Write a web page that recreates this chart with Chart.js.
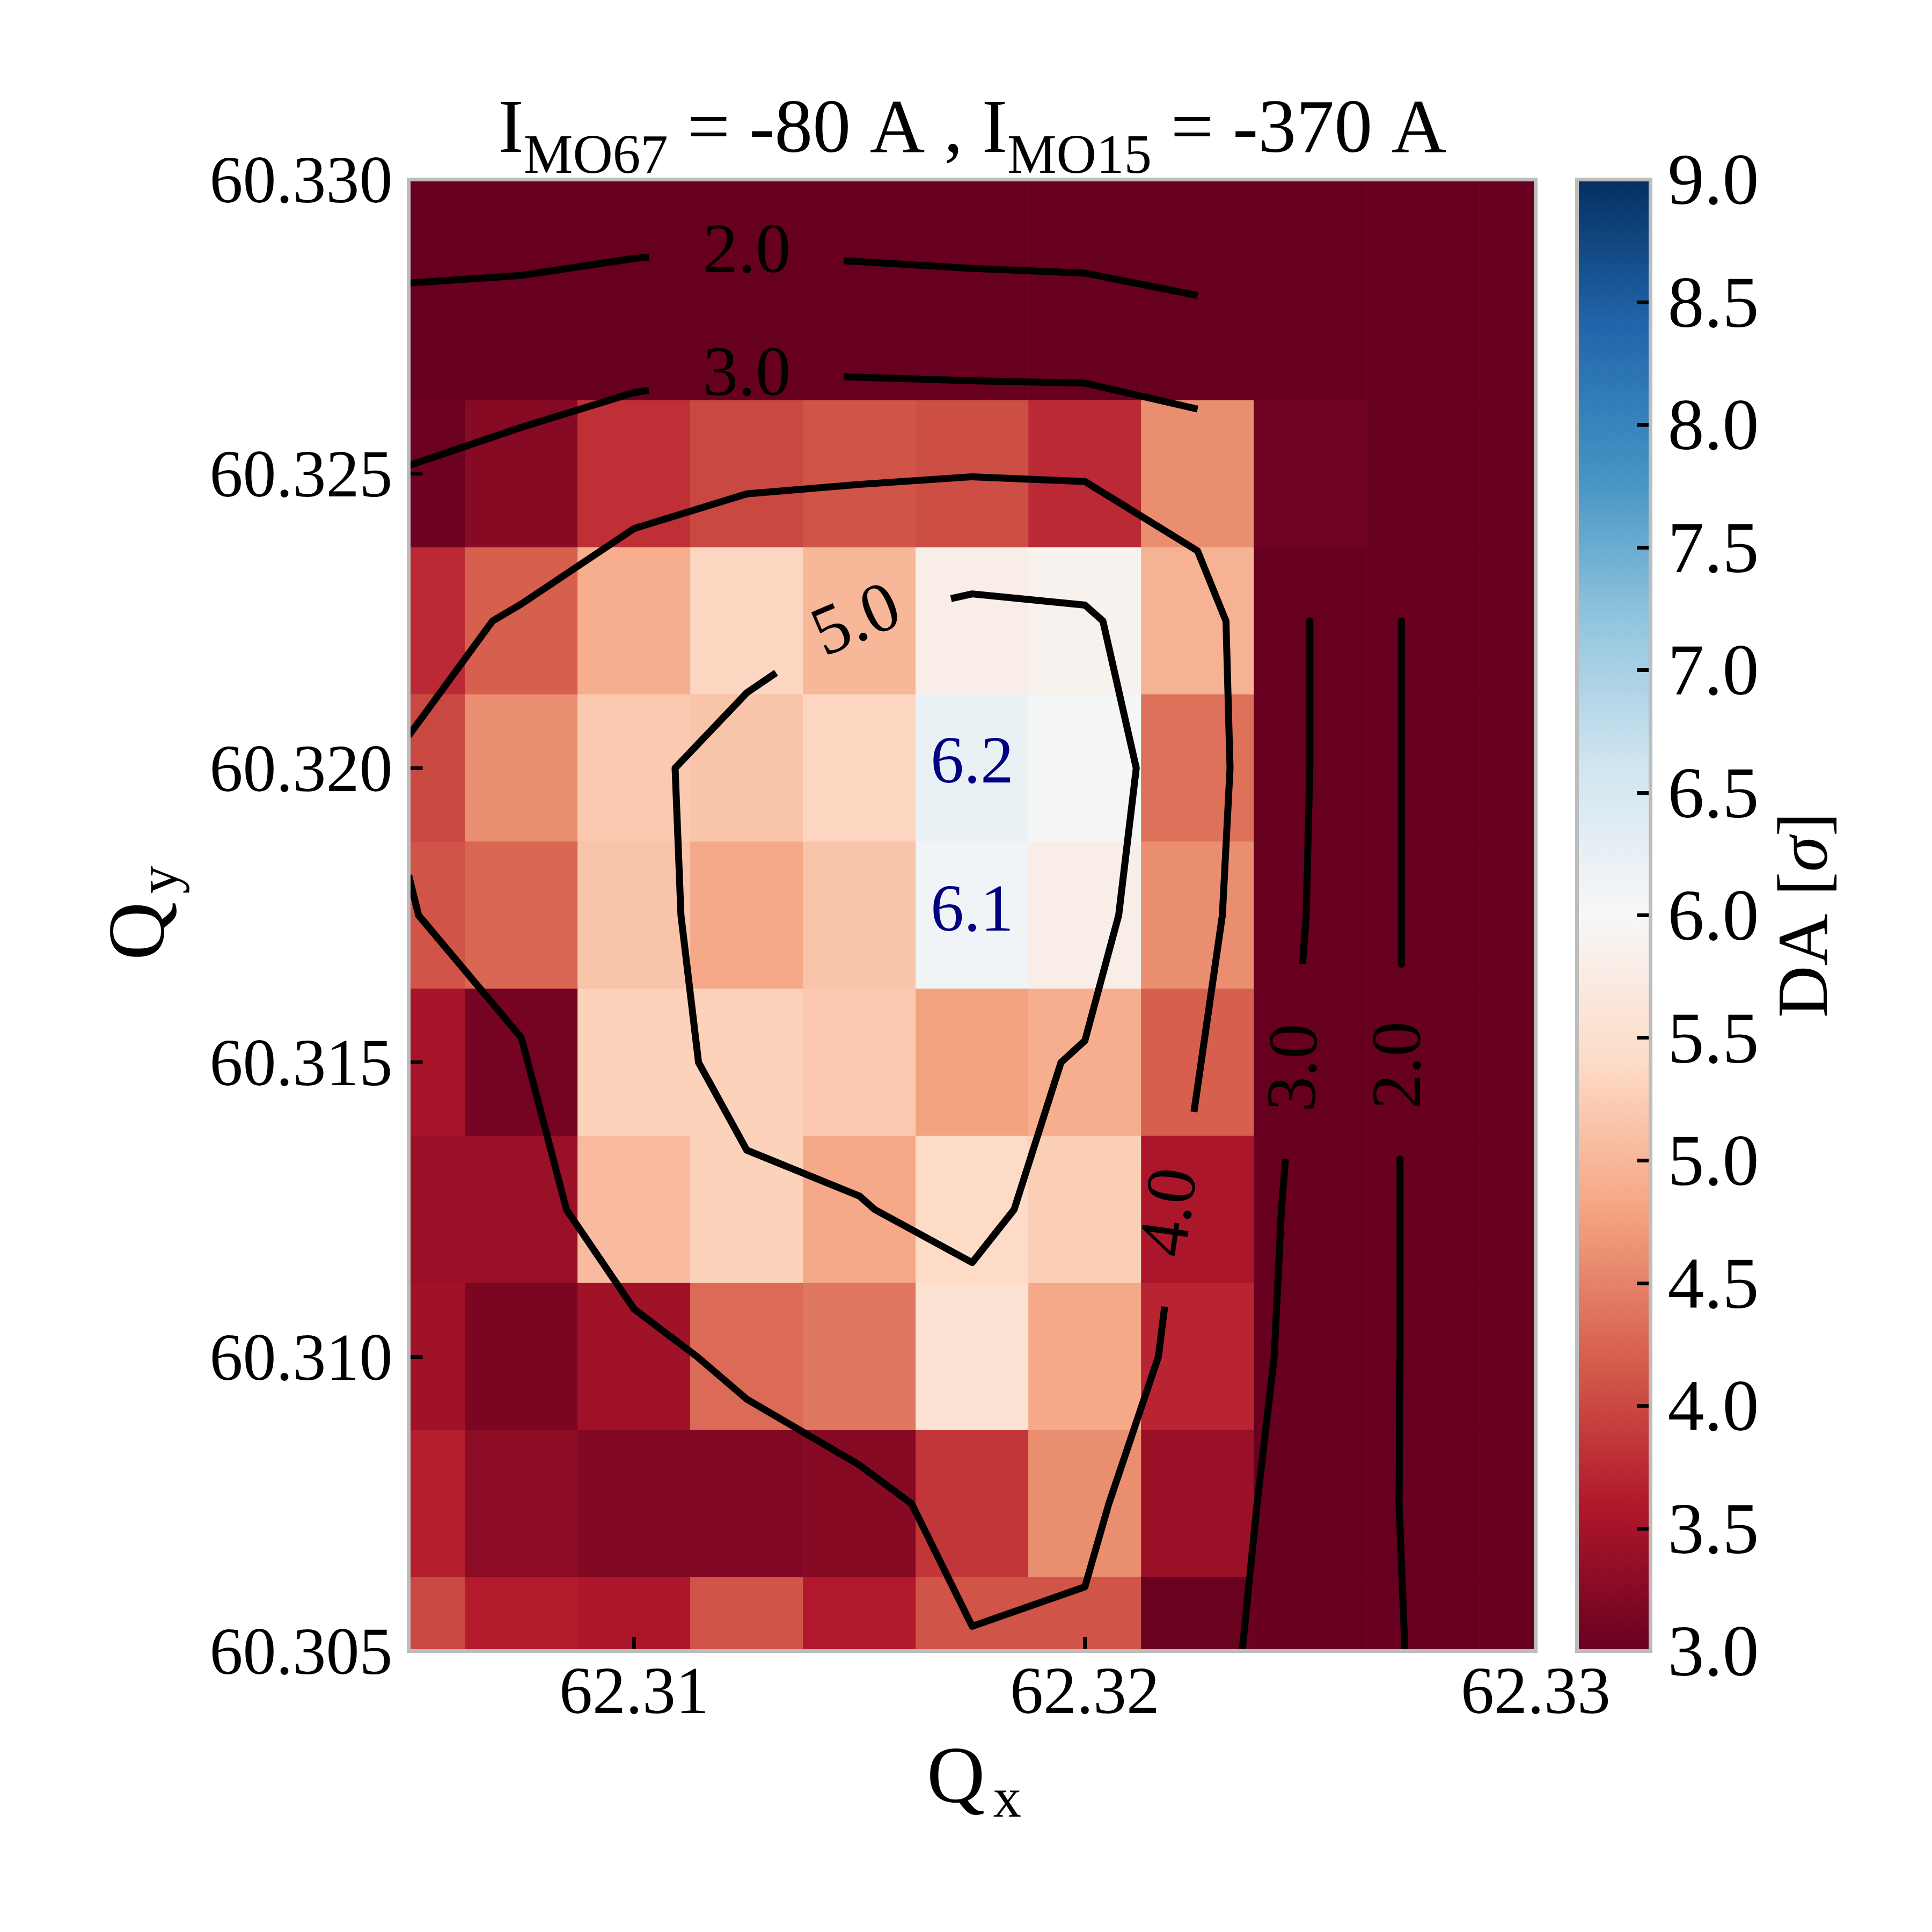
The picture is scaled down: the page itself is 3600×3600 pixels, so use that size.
<!DOCTYPE html>
<html><head><meta charset="utf-8">
<script src="https://cdn.jsdelivr.net/npm/chart.js@4"></script>
<style>html,body{margin:0;padding:0;background:#fff}canvas{position:absolute;top:0}</style>
</head><body>
<canvas id="main" width="3000" height="3600" style="left:0;width:3000px;height:3600px"></canvas>
<canvas id="cbar" width="700" height="3600" style="left:2900px;width:700px;height:3600px"></canvas>
<script>
// Axis values
const qx = [62.305,62.3075,62.31,62.3125,62.315,62.3175,62.32,62.3225,62.325,62.3275,62.33];
const qy = [60.305,60.3075,60.31,60.3125,60.315,60.3175,60.32,60.3225,60.325,60.3275,60.33];
const xTicks = [62.31,62.32,62.33];
const yTicks = [60.305,60.31,60.315,60.32,60.325,60.33];
const cbTicks = [3,3.5,4,4.5,5,5.5,6,6.5,7,7.5,8,8.5,9];
// DA per row (one array per Qy, left to right along Qx)
const da60305 = [4.0,3.62,3.55,4.1,3.6,4.1,4.1,3.02,3,3,3];
const da60307 = [3.65,3.3,3.2,3.2,3.25,3.85,4.6,3.4,3,3,3];
const da60310 = [3.45,3.15,3.45,4.3,4.4,5.55,4.85,3.7,3,3,3];
const da60312 = [3.4,3.4,5.05,5.3,4.85,5.4,5.25,3.55,3,3,3];
const da60315 = [3.5,3.1,5.3,5.3,5.2,4.78,4.9,4.2,3,3,3];
const da60317 = [4.1,4.25,5.15,4.85,5.15,6.1,5.8,4.6,3,3,3];
const da60320 = [4.0,4.6,5.2,5.15,5.35,6.2,6.05,4.35,3,3,3];
const da60322 = [3.75,4.2,4.9,5.35,5.0,5.8,5.9,4.95,3,3,3];
const da60325 = [3.05,3.25,3.8,4.0,4.1,4.05,3.75,4.6,3.06,3,3];
const da60327 = [3,3,3,3,3,3,3,3,3,3,3];
const da60330 = [3,3,3,3,3,3,3,3,3,3,3];
const daRows = [da60305,da60307,da60310,da60312,da60315,da60317,da60320,da60322,da60325,da60327,da60330];
// Contour polylines [Qx,Qy]
const c2TopA = [[62.305,60.32824],[62.3075,60.32837],[62.31,60.32866],[62.31033,60.32868]];
const c2TopB = [[62.31465,60.32862],[62.3175,60.32849],[62.32,60.32841],[62.3225,60.32803]];
const c3TopA = [[62.305,60.32514],[62.3075,60.32579],[62.31,60.32638],[62.31033,60.32642]];
const c3TopB = [[62.31465,60.32665],[62.3175,60.32658],[62.32,60.32654],[62.3225,60.3261]];
const c2RightA = [[62.32702,60.3225],[62.32702,60.31667]];
const c2RightB = [[62.32699,60.31336],[62.32699,60.31],[62.32697,60.3075],[62.3271,60.305]];
const c3RightA = [[62.32499,60.3225],[62.32499,60.32],[62.32491,60.3175],[62.32483,60.31667]];
const c3RightB = [[62.32445,60.31336],[62.32436,60.3125],[62.3242,60.31],[62.32382,60.3075],[62.32349,60.305]];
const c4A = [[62.305,60.32055],[62.30686,60.3225],[62.3075,60.32279],[62.31,60.32407],[62.3125,60.32466],[62.315,60.32482],[62.3175,60.32495],[62.32,60.32487],[62.3225,60.32369],[62.32313,60.3225],[62.32322,60.32],[62.32305,60.3175],[62.32242,60.31416]];
const c4B = [[62.32177,60.31085],[62.32163,60.31],[62.32053,60.3075],[62.32,60.30609],[62.3175,60.30542],[62.31616,60.3075],[62.315,60.30816],[62.3125,60.30928],[62.3114,60.31],[62.31,60.31081],[62.3085,60.3125],[62.3075,60.31542],[62.30522,60.3175],[62.305,60.31818]];
const c5 = [[62.31703,60.32288],[62.3175,60.32296],[62.32,60.32277],[62.3204,60.3225],[62.32114,60.32],[62.32075,60.3175],[62.32,60.31537],[62.31947,60.315],[62.31843,60.3125],[62.3175,60.3116],[62.31534,60.3125],[62.315,60.31273],[62.3125,60.31351],[62.31143,60.315],[62.31104,60.3175],[62.31091,60.32],[62.3125,60.32128],[62.31315,60.32162]];
const contours = [c2TopA,c2TopB,c3TopA,c3TopB,c2RightA,c2RightB,c3RightA,c3RightB,c4A,c4B,c5];
// Contour labels [text,Qx,Qy,rotation deg]
const contourLabels = [["2.0",62.3125,60.32874,0],["3.0",62.3125,60.32665,0],["5.0",62.31495,60.32247,-23],["4.0",62.32194,60.31245,-82],["3.0",62.32471,60.31491,-88],["2.0",62.32703,60.31495,-90]];
// Cell annotations [text,Qx,Qy]
const cellLabels = [["6.2",62.3175,60.32005],["6.1",62.3175,60.31754]];
// Text
const titleRuns = [["I",0],["MO67",1],[" = -80 A , I",0],["MO15",1],[" = -370 A",0]];
const xTitleRuns = [["Q",0],["x",1]];
const yTitleRuns = [["Q",0],["y",1]];
const cbTitleRuns = [["DA [",0],["σ",2],["]",0]];

const FONT = '"Liberation Serif"';
const rdbu = ["#67001f","#b2182b","#d6604d","#f4a582","#fddbc7","#f7f7f7","#d1e5f0","#92c5de","#4393c3","#2166ac","#053061"];
function hex(c){return [1,3,5].map(i=>parseInt(c.substr(i,2),16));}
function cmap(v){
  const t=Math.min(1,Math.max(0,(v-3)/6))*10, i=Math.min(9,Math.floor(t)), f=t-i;
  const a=hex(rdbu[i]), b=hex(rdbu[i+1]);
  return `rgb(${a.map((x,k)=>Math.round(x+(b[k]-x)*f)).join(",")})`;
}
function drawRuns(ctx,runs,cx,base,rot,size,subSize,shift,gap){
  gap=gap||0;
  const font=r=>r[1]===1?`${subSize}px ${FONT}`:r[1]===2?`italic ${size}px ${FONT}`:`${size}px ${FONT}`;
  ctx.save();ctx.translate(cx,base);ctx.rotate(rot*Math.PI/180);
  ctx.fillStyle="#000";ctx.textAlign="left";ctx.textBaseline="alphabetic";
  let w=0;runs.forEach(r=>{ctx.font=font(r);w+=ctx.measureText(r[0]).width+(r[1]===1?gap:0);});
  let x=-w/2;
  runs.forEach(r=>{ctx.font=font(r);if(r[1]===1)x+=gap;ctx.fillText(r[0],x,r[1]===1?shift:0);x+=ctx.measureText(r[0]).width;});
  ctx.restore();
}
const SPINE="#bdbdbd";
function frame(chart){
  const a=chart.chartArea,c=chart.ctx;c.save();c.strokeStyle=SPINE;c.lineWidth=7;
  c.strokeRect(a.left,a.top,a.right-a.left,a.bottom-a.top);c.restore();
}
const half=(qy[1]-qy[0])/2;
const barSets=daRows.map((row,j)=>({
  type:"bar",order:2,grouped:false,
  data:row.map((v,i)=>({x:qx[i],y:[qy[j]-half,qy[j]+half]})),
  backgroundColor:row.map(cmap),borderWidth:0,
  categoryPercentage:1,barPercentage:1
}));
const lineSets=contours.map(c=>({
  type:"scatter",order:1,showLine:true,
  data:c.map(p=>({x:p[0],y:p[1]})),
  borderColor:"#000",borderWidth:13,pointRadius:0,tension:0,borderJoinStyle:"round",fill:false
}));
const TICK=26, TW=7;
const annot={id:"annot",
  afterDatasetsDraw(chart){
    const c=chart.ctx,X=chart.scales.x,Y=chart.scales.y;
    c.save();c.textAlign="center";c.textBaseline="middle";
    c.font=`131px ${FONT}`;c.fillStyle="#000";
    contourLabels.forEach(l=>{c.save();c.translate(X.getPixelForValue(l[1]),Y.getPixelForValue(l[2]));c.rotate(l[3]*Math.PI/180);c.fillText(l[0],0,0);c.restore();});
    c.font=`124px ${FONT}`;c.fillStyle="#000080";
    cellLabels.forEach(l=>{c.fillText(l[0],X.getPixelForValue(l[1]),Y.getPixelForValue(l[2]));});
    c.restore();
  },
  afterDraw(chart){
    frame(chart);
    const c=chart.ctx,a=chart.chartArea;
    drawRuns(c,titleRuns,1812,283,0,142,103,39);
    drawRuns(c,xTitleRuns,1815,3358,0,150,105,27,15);
    drawRuns(c,yTitleRuns,305,1701,-90,150,105,25,15);
  }
};
function noPad(s){s.paddingLeft=s.paddingRight=s.paddingTop=s.paddingBottom=0;}
new Chart(document.getElementById("main"),{
  type:"bar",
  data:{datasets:[...lineSets,...barSets]},
  plugins:[annot],
  options:{
    responsive:false,animation:false,devicePixelRatio:1,
    layout:{padding:{left:0,top:334.5,right:3000-2861.5,bottom:0}},
    plugins:{legend:{display:false},tooltip:{enabled:false},title:{display:false}},
    scales:{
      x:{type:"linear",offset:false,min:qx[0],max:qx[10],
        afterFit(s){s.height=3600-3076.5;noPad(s);},
        afterBuildTicks(s){s.ticks=xTicks.map(v=>({value:v}));},
        border:{display:false},
        grid:{offset:false,z:1,drawOnChartArea:false,drawTicks:true,tickLength:-TICK,tickWidth:TW,tickColor:"#000"},
        ticks:{z:1,autoSkip:false,maxRotation:0,color:"#000",padding:TICK+9,font:{family:FONT,size:124},callback:v=>v.toFixed(2)}},
      y:{type:"linear",min:qy[0],max:qy[10],
        afterFit(s){s.width=761.5;noPad(s);},
        afterBuildTicks(s){s.ticks=yTicks.map(v=>({value:v}));},
        border:{display:false},
        grid:{z:1,drawOnChartArea:false,drawTicks:true,tickLength:-TICK,tickWidth:TW,tickColor:"#000"},
        ticks:{z:1,autoSkip:false,color:"#000",padding:TICK+30,labelOffset:10,font:{family:FONT,size:124},callback:v=>v.toFixed(3)}}
    }
  }
});
const cbPlugin={id:"cbp",
  afterDraw(chart){
    frame(chart);
    drawRuns(chart.ctx,cbTitleRuns,3404-2900,1705,-90,134,100,30);
  }
};
new Chart(document.getElementById("cbar"),{
  type:"bar",
  data:{labels:["DA"],datasets:[{
    data:[[cbTicks[0],cbTicks[cbTicks.length-1]]],
    categoryPercentage:1,barPercentage:1,borderWidth:0,
    backgroundColor(ctx){
      const a=ctx.chart.chartArea;if(!a)return rdbu[0];
      const g=ctx.chart.ctx.createLinearGradient(0,a.bottom,0,a.top);
      rdbu.forEach((c,i)=>g.addColorStop(i/10,c));return g;
    }}]},
  plugins:[cbPlugin],
  options:{
    responsive:false,animation:false,devicePixelRatio:1,
    layout:{padding:{left:38.5,top:334.5,right:0,bottom:3600-3076.5}},
    plugins:{legend:{display:false},tooltip:{enabled:false}},
    scales:{
      x:{display:false,offset:true},
      y:{position:"right",min:3,max:9,
        afterFit(s){s.width=700-175.5;noPad(s);},
        afterBuildTicks(s){s.ticks=cbTicks.map(v=>({value:v}));},
        border:{display:false},
        grid:{z:1,drawOnChartArea:false,drawTicks:true,tickLength:-25,tickWidth:TW,tickColor:"#000"},
        ticks:{z:1,autoSkip:false,color:"#000",padding:25+32,labelOffset:10,font:{family:FONT,size:136},callback:v=>v.toFixed(1)}}
    }
  }
});
</script>
</body></html>
